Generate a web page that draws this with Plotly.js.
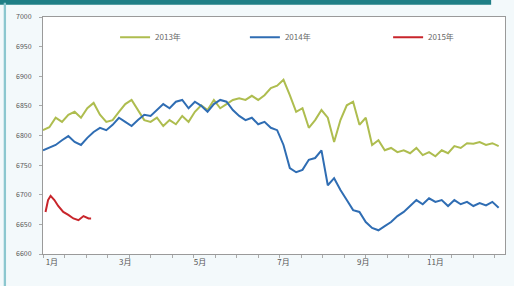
<!DOCTYPE html>
<html><head><meta charset="utf-8">
<script src="https://cdn.plot.ly/plotly-3.0.1.min.js"></script>
<style>html,body{margin:0;padding:0;background:#f3f9fb;}#c{width:514px;height:286px;}</style>
</head><body><div id="c"></div>
<script>
// series names
const seriesNames = ['2013年', '2014年', '2015年'];
// x tick labels (months)
const monthLabels = ['1月', '3月', '5月', '7月', '9月', '11月'];
const monthTickDays = [7, 65, 124, 190, 253, 310];
// y ticks
const yTicks = [6600, 6650, 6700, 6750, 6800, 6850, 6900, 6950, 7000];

// sample day index (every 5 days) for 2013 & 2014
const stepDays = 5;
const v2013 = [6809,6814,6830,6823,6835,6840,6830,6846,6855,6835,6823,6826,6840,6853,6860,6843,6826,6823,6830,6816,6826,6819,6833,6823,6840,6851,6843,6860,6846,6853,6860,6863,6860,6867,6860,6868,6880,6884,6894,6868,6840,6846,6813,6826,6843,6830,6789,6826,6851,6857,6818,6830,6784,6792,6775,6779,6772,6775,6770,6779,6767,6772,6765,6775,6770,6782,6779,6787,6786,6789,6784,6787,6782];
const v2014 = [6775,6779,6784,6792,6799,6789,6784,6796,6806,6813,6809,6818,6830,6823,6816,6826,6835,6833,6843,6853,6846,6857,6860,6846,6857,6850,6840,6853,6860,6857,6843,6833,6826,6830,6819,6823,6813,6809,6784,6745,6738,6742,6759,6762,6775,6716,6728,6708,6691,6674,6671,6654,6644,6640,6647,6654,6664,6671,6681,6691,6684,6694,6688,6691,6681,6691,6684,6688,6681,6686,6682,6688,6678];
const d2015 = [2,4,6,9,12,16,20,24,28,32,36,38];
const v2015 = [6671,6691,6698,6691,6681,6671,6666,6660,6657,6664,6660,6660];

const days13 = v2013.map((_, i) => i * stepDays);
const days14 = v2014.map((_, i) => i * stepDays);

const colors = ['#aebd4f', '#2f6db3', '#c8252b'];
const fontFam = '"Noto Sans CJK SC", "Liberation Sans", sans-serif';

const traces = [
  {x: days13, y: v2013, name: seriesNames[0], type: 'scatter', mode: 'lines', line: {color: colors[0], width: 2}, legend: 'legend'},
  {x: days14, y: v2014, name: seriesNames[1], type: 'scatter', mode: 'lines', line: {color: colors[1], width: 2}, legend: 'legend2'},
  {x: d2015, y: v2015, name: seriesNames[2], type: 'scatter', mode: 'lines', line: {color: colors[2], width: 2}, legend: 'legend3'}
];

const legBase = {orientation: 'h', y: 0.915, xanchor: 'left', yanchor: 'middle', itemwidth: 30,
  bgcolor: 'rgba(0,0,0,0)', font: {family: fontFam, size: 8, color: '#666'}};

const layout = {
  width: 514, height: 286,
  margin: {l: 43, r: 9, t: 17, b: 32},
  paper_bgcolor: '#f3f9fb',
  plot_bgcolor: '#ffffff',
  showlegend: true,
  legend: Object.assign({}, legBase, {x: 0.156}),
  legend2: Object.assign({}, legBase, {x: 0.437}),
  legend3: Object.assign({}, legBase, {x: 0.747}),
  xaxis: {range: [0, 365], tickmode: 'array', tickvals: monthTickDays, ticktext: monthLabels,
    showgrid: false, zeroline: false, showline: true, linecolor: '#9a9a9a', linewidth: 1, mirror: true,
    ticks: '', tickfont: {family: fontFam, size: 8, color: '#555'},
    minor: {tick0: 0, dtick: 17, ticks: 'outside', ticklen: 3, tickcolor: '#aaa', showgrid: false}},
  yaxis: {range: [6600, 7000], tickmode: 'array', tickvals: yTicks, ticktext: yTicks.map(String),
    showgrid: false, zeroline: false, showline: true, linecolor: '#9a9a9a', linewidth: 1, mirror: true,
    ticks: 'outside', ticklen: 3, tickcolor: '#aaa', ticklabelstandoff: 6,
    tickfont: {family: fontFam, size: 7, color: '#555'}},
  shapes: [
    {type: 'rect', xref: 'paper', yref: 'paper', x0: -0.1, x1: 0.97, y0: 1.052, y1: 1.08, fillcolor: '#1f7f86', line: {width: 0}},
    {type: 'rect', xref: 'paper', yref: 'paper', x0: -0.085, x1: -0.08, y0: -0.14, y1: 1.06, fillcolor: '#8cc7cf', line: {width: 0}}
  ]
};
Plotly.newPlot('c', traces, layout, {displayModeBar: false, staticPlot: true});
</script></body></html>
